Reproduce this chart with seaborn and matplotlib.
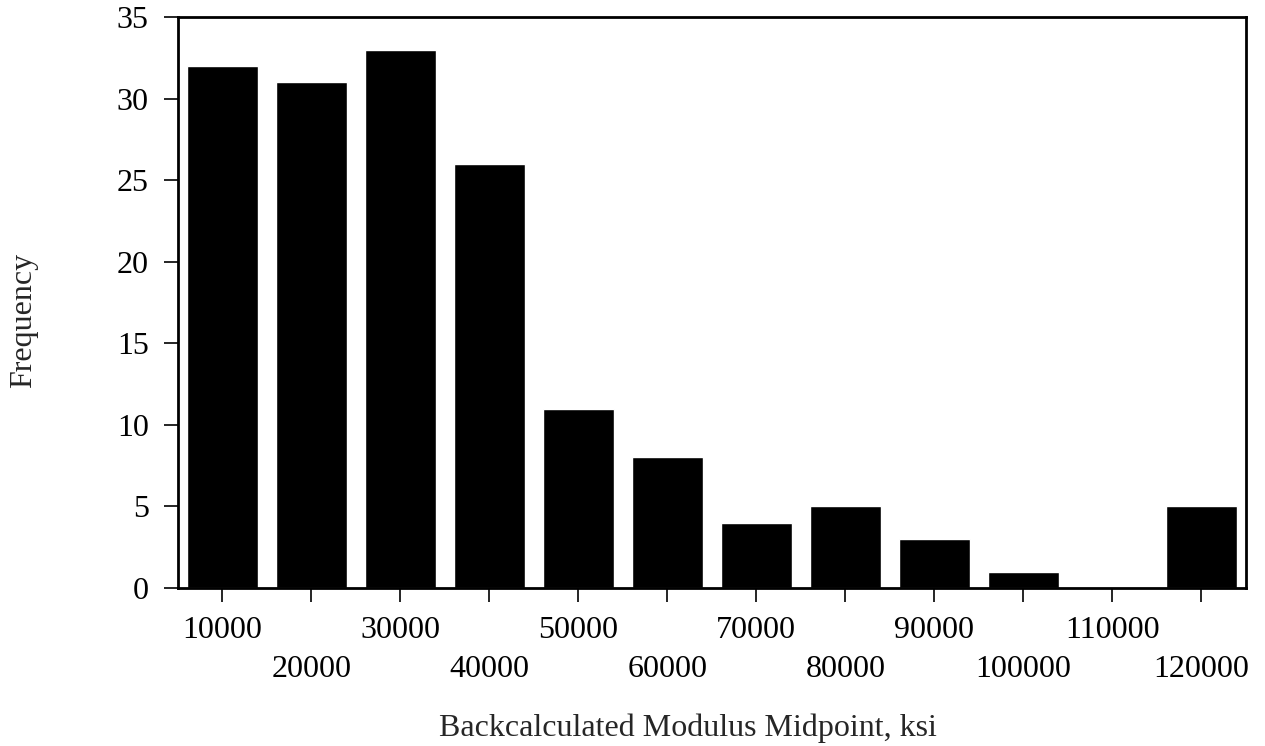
import matplotlib
matplotlib.use("Agg")
import matplotlib.pyplot as plt
import seaborn as sns
import pandas as pd

# histogram of backcalculated modulus
midpoints = ["10000", "20000", "30000", "40000", "50000", "60000",
             "70000", "80000", "90000", "100000", "110000", "120000"]
frequency = [32, 31, 33, 26, 11, 8, 4, 5, 3, 1, 0, 5]

df = pd.DataFrame({"Midpoint": midpoints, "Frequency": frequency})

sns.set_style("ticks")
plt.rcParams["font.family"] = ["Liberation Serif", "DejaVu Serif"]

fig = plt.figure(figsize=(12.65, 7.46), dpi=100)
ax = fig.add_axes([0.1407, 0.2118, 0.844, 0.7654])

sns.barplot(data=df, x="Midpoint", y="Frequency", color="black",
            saturation=1, width=0.8, ax=ax)

ax.set_xlim(-0.5, 11.5)
ax.set_ylim(0, 35)
ax.set_yticks(range(0, 36, 5))

for s in ax.spines.values():
    s.set_visible(True)
    s.set_linewidth(2)
    s.set_color("black")

ax.tick_params(axis="both", direction="out", length=10, width=1.2,
               colors="black", labelsize=23)
ax.tick_params(axis="y", pad=11)
# staggered x tick labels
for i, t in enumerate(ax.xaxis.get_major_ticks()):
    t.set_pad(10 if i % 2 == 0 else 38)

ax.set_xlabel("Backcalculated Modulus Midpoint, ksi", fontsize=23)
ax.xaxis.set_label_coords(0.478, -0.219)
ax.set_ylabel("Frequency", fontsize=23)
ax.yaxis.set_label_coords(-0.131, 0.468)

fig.savefig("out.png", dpi=100)
